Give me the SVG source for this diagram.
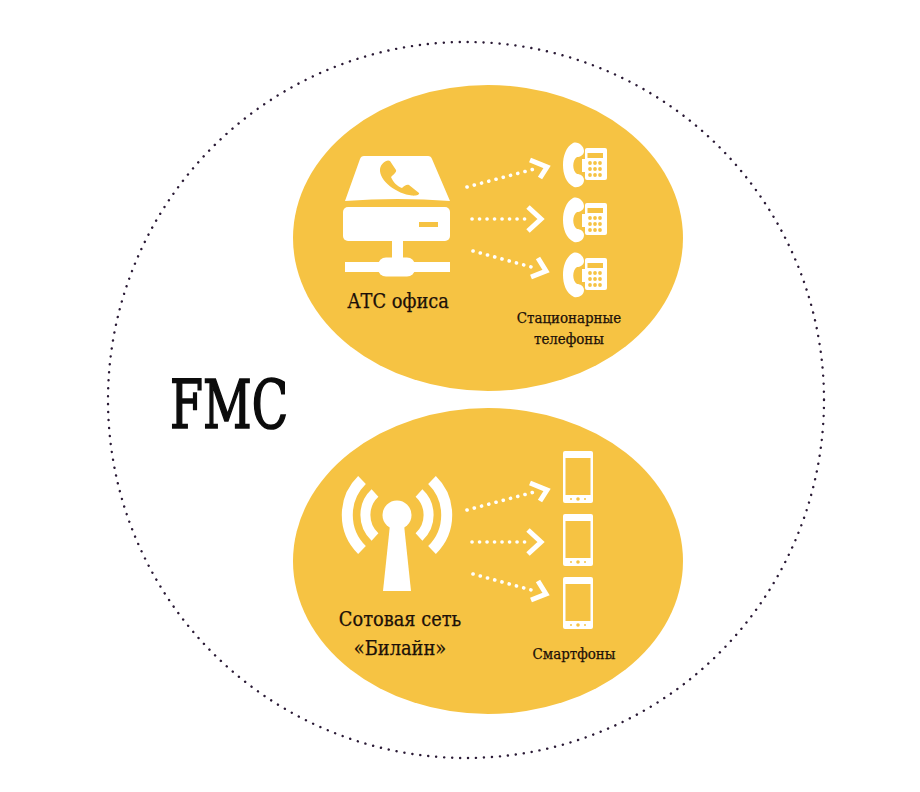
<svg xmlns="http://www.w3.org/2000/svg" width="920" height="792" viewBox="0 0 920 792">
<style>
.lbl{font-family:"DejaVu Serif Condensed","DejaVu Serif","Liberation Serif",serif;fill:#1c1008;stroke:#1c1008;stroke-width:0.25;text-anchor:middle}
.big{font-size:19.8px}
.small{font-size:14.9px}
.dots{fill:none;stroke:#fff;stroke-width:3.6;stroke-linecap:round;stroke-dasharray:0.1 7.4}
.chev{fill:none;stroke:#fff;stroke-width:5;stroke-linejoin:miter}
.y{fill:#f6c343}
.w{fill:#fff}
.arc{fill:none;stroke:#fff}
</style>
<defs>
<g id="phone">
<path class="w" d="M573 143C578 141 584 146 584 151C584 155 580 157 577 157C572 160 572 171 577 174C580 174 584 176 584 180C584 185 579 188 574 187C566 183 563 174 563 165C563 156 566 147 573 143Z"/>
<rect class="w" x="585" y="148" width="22" height="32" rx="2"/>
<rect class="w" x="582" y="159" width="5" height="13"/>
<rect class="y" x="587.500" y="153" width="15.500" height="5"/>
<g class="y">
<circle cx="590" cy="163" r="1.900"/><circle cx="595" cy="163" r="1.900"/><circle cx="600" cy="163" r="1.900"/>
<circle cx="590" cy="169" r="1.900"/><circle cx="595" cy="169" r="1.900"/><circle cx="600" cy="169" r="1.900"/>
<circle cx="590" cy="175" r="1.900"/><circle cx="595" cy="175" r="1.900"/><circle cx="600" cy="175" r="1.900"/>
</g>
</g>
<g id="smart">
<rect class="w" x="563" y="451" width="30" height="52" rx="2"/>
<rect class="y" x="565.500" y="458" width="25" height="37"/>
<circle class="y" cx="578" cy="499" r="1.800"/><circle class="y" cx="571" cy="499" r="1"/><circle class="y" cx="585" cy="499" r="1"/>
</g>
<g id="arrows">
<path class="dots" d="M467 187L538 168"/>
<path class="chev" d="M530 160L547 167L540 178"/>
<path class="dots" d="M472 219L527 219"/>
<path class="chev" d="M528 207L541 219L528 231"/>
<path class="dots" d="M473 251L535 268"/>
<path class="chev" d="M538 258L546 271L531 277"/>
</g>
</defs>
<rect width="920" height="792" fill="#fff"/>
<ellipse id="fmc-boundary" cx="466" cy="400" rx="358" ry="358" fill="none" stroke="#2a1a35" stroke-width="2.4" stroke-linecap="round" stroke-dasharray="0.1 7.9"/>
<g id="fmc-label"><text x="229" y="428" font-family="'DejaVu Serif Condensed','DejaVu Serif',serif" font-size="68" fill="#0c0c0c" stroke="#0c0c0c" stroke-width="1.7" text-anchor="middle" textLength="118" lengthAdjust="spacingAndGlyphs">FMC</text></g>

<g id="office-bubble"><ellipse class="y" cx="488" cy="238" rx="195" ry="153"/></g>
<g id="mobile-bubble"><ellipse class="y" cx="488" cy="561" rx="195" ry="153"/></g>

<g id="office-pbx">
<path class="w" d="M364 156H428Q431 156 432 159L450 201Q398 197 345 201L360 159Q361 156 364 156Z"/>
<path class="y" d="M380 169C381 163 387 159 390 161L396 170C397 172 393 175 391 177C393 182 397 186 402 188C404 186 407 184 409 185L419 193C420 195 415 196 412 195.500C397 194 379 181 380 169Z"/>
<rect class="w" x="343" y="207" width="107" height="34" rx="5"/>
<rect class="y" x="419" y="222" width="19" height="5"/>
<rect class="w" x="392" y="240" width="11" height="22"/>
<rect class="w" x="345" y="262" width="105" height="10"/>
<rect class="w" x="378" y="257.500" width="37" height="19" rx="8"/>
<text class="lbl big" x="398" y="308">АТС офиса</text>
</g>
<g id="desk-phones">
<use href="#phone"/>
<use href="#phone" y="55"/>
<use href="#phone" y="110"/>
<text class="lbl small" x="569" y="323">Стационарные</text>
<text class="lbl small" x="569" y="344">телефоны</text>
</g>

<g id="cell-network">
<circle class="w" cx="397" cy="515" r="14.500"/>
<path class="w" d="M390.500 520H403.500L411 591H383Z"/>
<path class="arc" stroke-width="10" d="M375 493A30 30 0 0 0 375 537M419 493A30 30 0 0 1 419 537"/>
<path class="arc" stroke-width="11" d="M362 480A49 49 0 0 0 362 550M432 480A49 49 0 0 1 432 550"/>
<text class="lbl big" x="400" y="626">Сотовая сеть</text>
<text class="lbl big" x="400" y="655">«Билайн»</text>
</g>
<g id="smartphones">
<use href="#smart"/>
<use href="#smart" y="63"/>
<use href="#smart" y="126"/>
<text class="lbl small" x="574" y="659">Смартфоны</text>
</g>

<g id="connectors">
<use href="#arrows"/>
<use href="#arrows" y="323"/>
</g>
</svg>
